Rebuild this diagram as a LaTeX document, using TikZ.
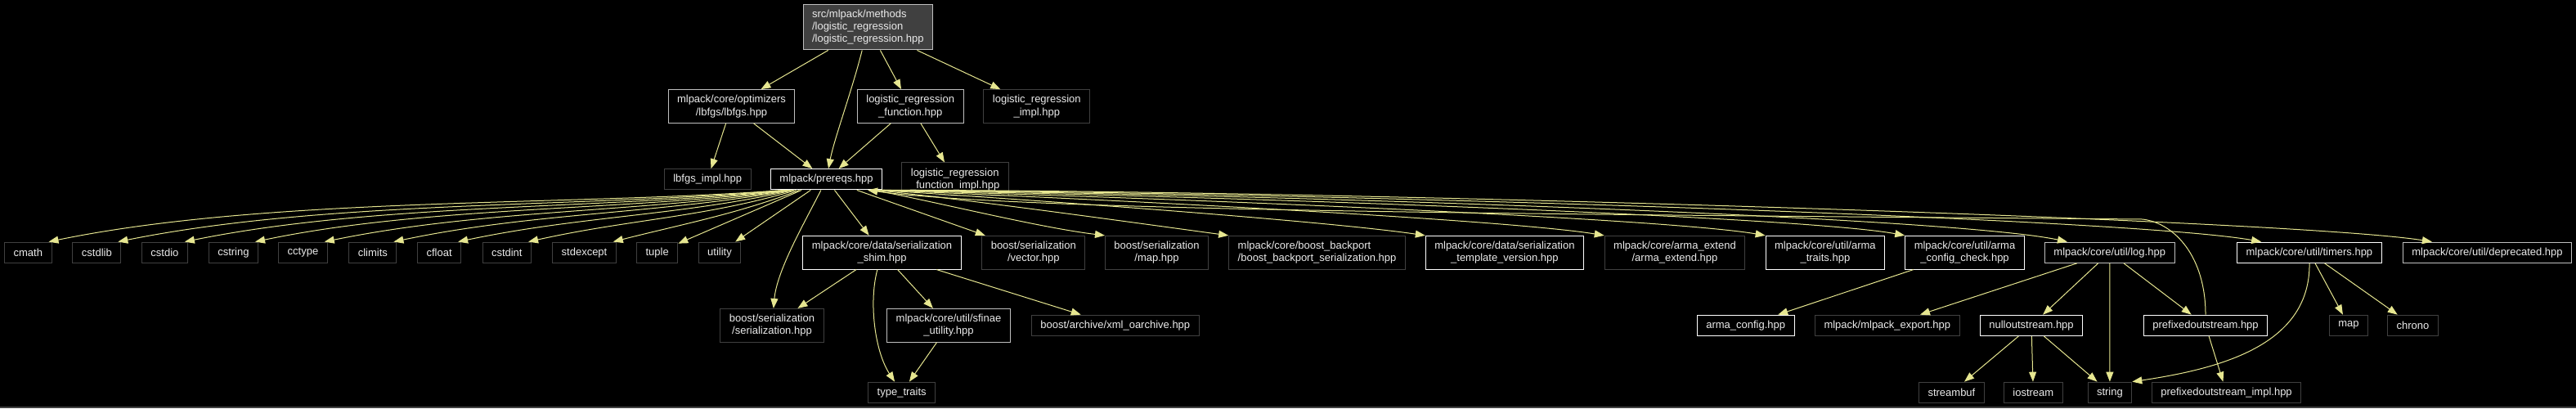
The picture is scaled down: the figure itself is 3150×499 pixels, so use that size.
\documentclass[tikz,border=0pt]{standalone}
\usepackage{fontspec}
\setmainfont{Liberation Sans}
\usepackage{xcolor}
\usepackage{tikz}
\usetikzlibrary{positioning, arrows.meta}

\definecolor{edgecol}{HTML}{E6E690}
\definecolor{lightline}{HTML}{BFBFBF}
\definecolor{darkline}{HTML}{404040}
\definecolor{rootfill}{HTML}{404040}
\definecolor{labelcol}{HTML}{EBEBEB}

\tikzset{
  filebox/.style={draw=white, fill=black, text=labelcol, line width=1pt,
    inner xsep=11pt, inner ysep=3pt, minimum height=25.3pt,
    font=\fontsize{13pt}{15.3pt}\selectfont},
  docbox/.style={filebox, draw=lightline},
  sysbox/.style={filebox, draw=darkline},
  twoline/.style={minimum height=40.7pt, align=center},
  dep/.style={draw=edgecol, line width=1pt, -{Triangle[length=12pt,width=9pt]}}
}

\begin{document}
\begin{tikzpicture}[x=1pt, y=-1pt]
  \fill[black] (0,0) rectangle (3150,499);
  \useasboundingbox (0,0) rectangle (3150,499);
  \draw[darkline, line width=1.5pt] (0,498.2) -- (3150,498.2);

  % top of the graph
  \node[docbox, fill=rootfill, minimum height=55.3pt, align=left] (root) at (1061.3,33.3)
       {src/mlpack/methods\\/logistic\_regression\\/logistic\_regression.hpp};
  \node[docbox, twoline] (lbfgs) at (894.5,130) {mlpack/core/optimizers\\/lbfgs/lbfgs.hpp};
  \node[docbox, twoline] (lrfunc) at (1113.2,130) {logistic\_regression\\\_function.hpp};
  \node[sysbox, twoline] (lrimpl) at (1267.8,130) {logistic\_regression\\\_impl.hpp};
  \node[sysbox] (lbfgsimpl) at (865.2,219.3) {lbfgs\_impl.hpp};
  \node[filebox] (prereqs) at (1010.5,219.3) {mlpack/prereqs.hpp};
  \node[sysbox, twoline] (lrfuncimpl) at (1167.7,219.3) {logistic\_regression\\\_function\_impl.hpp};

  % headers included by prereqs
  \node[sysbox] (cmath) at (34.3,308.7) {cmath};
  \node[sysbox] (cstdlib) at (118.4,308.7) {cstdlib};
  \node[sysbox] (cstdio) at (201.4,308.7) {cstdio};
  \node[sysbox] (cstring) at (285.4,308.7) {cstring};
  \node[sysbox] (cctype) at (370.5,308.7) {cctype};
  \node[sysbox] (climits) at (455.9,308.7) {climits};
  \node[sysbox] (cfloat) at (537.1,308.7) {cfloat};
  \node[sysbox] (cstdint) at (619.8,308.7) {cstdint};
  \node[sysbox] (stdexcept) at (714.5,308.7) {stdexcept};
  \node[sysbox] (tuple) at (803.7,308.7) {tuple};
  \node[sysbox] (utility) at (880,308.7) {utility};
  \node[filebox, twoline] (shim) at (1078.5,308.7) {mlpack/core/data/serialization\\\_shim.hpp};
  \node[sysbox, twoline] (bvector) at (1263.8,308.7) {boost/serialization\\/vector.hpp};
  \node[sysbox, twoline] (bmap) at (1414.5,308.7) {boost/serialization\\/map.hpp};
  \node[sysbox, twoline, align=left] (backport) at (1610.5,308.7)
       {mlpack/core/boost\_backport\\/boost\_backport\_serialization.hpp};
  \node[filebox, twoline] (tmplver) at (1839.9,308.7) {mlpack/core/data/serialization\\\_template\_version.hpp};
  \node[sysbox, twoline] (armaext) at (2048,308.7) {mlpack/core/arma\_extend\\/arma\_extend.hpp};
  \node[filebox, twoline] (armatraits) at (2231.9,308.7) {mlpack/core/util/arma\\\_traits.hpp};
  \node[filebox, twoline] (cfgcheck) at (2402.5,308.7) {mlpack/core/util/arma\\\_config\_check.hpp};
  \node[docbox] (log) at (2579.7,308.7) {mlpack/core/util/log.hpp};
  \node[filebox] (timers) at (2823.9,308.7) {mlpack/core/util/timers.hpp};
  \node[docbox] (deprecated) at (3041.5,308.7) {mlpack/core/util/deprecated.hpp};

  % third level
  \node[sysbox, twoline] (bser) at (944,397.8) {boost/serialization\\/serialization.hpp};
  \node[docbox, twoline] (sfinae) at (1160,397.8) {mlpack/core/util/sfinae\\\_utility.hpp};
  \node[sysbox] (xmlarch) at (1363.8,397.8) {boost/archive/xml\_oarchive.hpp};
  \node[filebox] (armacfg) at (2134.7,397.8) {arma\_config.hpp};
  \node[sysbox] (mlexport) at (2307.8,397.8) {mlpack/mlpack\_export.hpp};
  \node[filebox] (nullout) at (2484,397.8) {nulloutstream.hpp};
  \node[filebox] (prefixout) at (2697,397.8) {prefixedoutstream.hpp};
  \node[sysbox] (map) at (2872,397.8) {map};
  \node[sysbox] (chrono) at (2950.4,397.8) {chrono};

  % bottom level
  \node[sysbox] (typetraits) at (1102.7,479.8) {type\_traits};
  \node[sysbox] (streambuf) at (2386.4,479.8) {streambuf};
  \node[sysbox] (iostream) at (2486.3,479.8) {iostream};
  \node[sysbox] (string) at (2579.9,479.8) {string};
  \node[sysbox] (prefiximpl) at (2722.5,479.8) {prefixedoutstream\_impl.hpp};

  % edges from the top
  \draw[dep] (root) -- (lbfgs);
  \draw[dep] (root) .. controls (1042,110) and (1020,170) .. (prereqs);
  \draw[dep] (root) -- (lrfunc);
  \draw[dep] (root) -- (lrimpl);
  \draw[dep] (lbfgs) -- (lbfgsimpl);
  \draw[dep] (lbfgs) -- (prereqs);
  \draw[dep] (lrfunc) -- (prereqs);
  \draw[dep] (lrfunc) -- (lrfuncimpl);

  % prereqs, to the left
  \draw[dep] ([xshift=-52pt]prereqs.south) .. controls (700,252) and (330,240) .. ([xshift=-4pt]cmath.north east);
  \draw[dep] ([xshift=-50pt]prereqs.south) .. controls (720,254) and (400,244) .. ([xshift=-4pt]cstdlib.north east);
  \draw[dep] ([xshift=-48pt]prereqs.south) .. controls (740,256) and (460,248) .. ([xshift=-4pt]cstdio.north east);
  \draw[dep] ([xshift=-46pt]prereqs.south) .. controls (760,258) and (520,252) .. ([xshift=-4pt]cstring.north east);
  \draw[dep] ([xshift=-44pt]prereqs.south) .. controls (780,260) and (590,256) .. ([xshift=-4pt]cctype.north east);
  \draw[dep] ([xshift=-42pt]prereqs.south) .. controls (800,262) and (650,260) .. ([xshift=-4pt]climits.north east);
  \draw[dep] ([xshift=-40pt]prereqs.south) .. controls (830,264) and (710,264) .. ([xshift=-4pt]cfloat.north east);
  \draw[dep] ([xshift=-37pt]prereqs.south) .. controls (860,266) and (770,268) .. ([xshift=-4pt]cstdint.north east);
  \draw[dep] ([xshift=-33pt]prereqs.south) .. controls (900,262) and (830,275) .. ([xshift=-4pt]stdexcept.north east);
  \draw[dep] (prereqs) -- (tuple);
  \draw[dep] (prereqs) -- (utility);
  \draw[dep] (prereqs) .. controls (985,270) and (950,330) .. (bser);
  \draw[dep] (prereqs) -- (shim);

  % prereqs, to the right
  \draw[dep] (prereqs) -- (bvector);
  \draw[dep] ([xshift=-10pt]prereqs.south east) .. controls (1150,248) and (1270,278) .. (bmap.north west);
  \draw[dep] ([xshift=-8pt]prereqs.south east) .. controls (1200,246) and (1400,274) .. (backport.north west);
  \draw[dep] ([xshift=-6pt]prereqs.south east) .. controls (1260,244) and (1620,270) .. (tmplver.north west);
  \draw[dep] ([xshift=-5pt]prereqs.south east) .. controls (1320,242) and (1840,268) .. (armaext.north west);
  \draw[dep] ([xshift=-4pt]prereqs.south east) .. controls (1380,240) and (2030,266) .. (armatraits.north west);
  \draw[dep] ([xshift=-3pt]prereqs.south east) .. controls (1440,238) and (2200,264) .. (cfgcheck.north west);
  \draw[dep] ([xshift=-2pt]prereqs.south east) .. controls (1500,236) and (2380,264) .. ([xshift=28pt]log.north west);
  \draw[dep] ([xshift=-1pt]prereqs.south east) .. controls (1560,234) and (2600,266) .. ([xshift=30pt]timers.north west);
  \draw[dep] (prereqs.south east) .. controls (1620,232) and (2800,268) .. ([xshift=36pt]deprecated.north west);

  % serialization shim
  \draw[dep] (shim) -- (bser);
  \draw[dep] (shim) .. controls (1062,370) and (1070,430) .. (typetraits);
  \draw[dep] (shim) -- (sfinae);
  \draw[dep] (shim) -- (xmlarch);
  \draw[dep] (sfinae) -- (typetraits);

  % util headers
  \draw[dep] (cfgcheck) -- (armacfg);
  \draw[dep] (log) -- (mlexport);
  \draw[dep] (log) -- (nullout);
  \draw[dep] (log) -- (string);
  \draw[dep] (log) -- (prefixout);
  \draw[dep] (nullout) -- (streambuf);
  \draw[dep] (nullout) -- (iostream);
  \draw[dep] (nullout) -- (string);
  \draw[dep] (prefixout) -- (prefiximpl);
  \draw[dep] (prefixout.north) .. controls +(0,-70) and +(40,5) .. (2620,268)
       .. controls (1900,262) and (1250,258) .. ([xshift=-18pt]prereqs.south east);
  \draw[dep] (timers) .. controls (2825,420) and (2720,450) .. (string.north east);
  \draw[dep] (timers) -- (map);
  \draw[dep] (timers) -- (chrono);

\end{tikzpicture}
\end{document}
